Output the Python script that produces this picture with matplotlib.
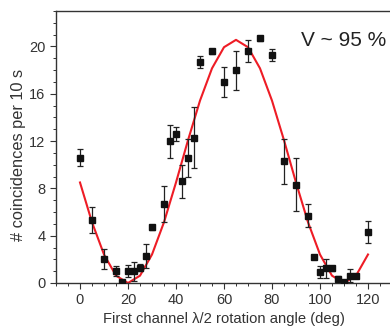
import matplotlib.pyplot as plt
from matplotlib.ticker import MultipleLocator

plt.rcParams['font.family'] = ['Liberation Sans', 'DejaVu Sans']

# measured coincidences
angle = [0, 5, 10, 15, 17.5, 20, 22.5, 25, 27.5, 30, 35, 37.5, 40, 42.5, 45, 47.5,
         50, 55, 60, 65, 70, 75, 80, 85, 90, 95, 97.5, 100, 102.5, 105, 107.5, 110,
         112.5, 115, 120]
counts = [10.6, 5.3, 2.0, 1.0, 0.05, 1.0, 1.0, 1.3, 2.3, 4.7, 6.7, 12.0, 12.6, 8.6, 10.6, 12.3,
          18.7, 19.6, 17.0, 18.0, 19.6, 20.7, 19.3, 10.3, 8.3, 5.7, 2.2, 0.95, 1.25, 1.25, 0.35, 0.05,
          0.6, 0.6, 4.3]
err = [0.7, 1.1, 0.85, 0.4, 0.0, 0.5, 0.8, 0.3, 1.0, 0.2, 1.5, 1.4, 0.6, 1.4, 1.6, 2.6,
       0.5, 0.2, 1.3, 1.65, 0.95, 0.2, 0.5, 1.9, 2.25, 1.0, 0.2, 0.5, 0.8, 0.2, 0.2, 0.1,
       0.55, 0.2, 0.95]

# fit curve (read every 5 deg)
fit_angle = list(range(0, 125, 5))
fit_counts = [8.5, 5.14, 2.41, 0.62, 0.0, 0.62, 2.41, 5.14, 8.5, 12.07, 15.42, 18.15, 19.94,
              20.56, 19.94, 18.15, 15.42, 12.07, 8.5, 5.14, 2.41, 0.62, 0.0, 0.62, 2.41]

fig = plt.figure(figsize=(3.9, 3.3), dpi=100)
ax = fig.add_axes([56 / 390, 47 / 330, 336 / 390, 272 / 330])

ax.plot(fit_angle, fit_counts, color='#ee1c25', lw=1.5, zorder=2)
ax.errorbar(angle, counts, yerr=err, fmt='s', color='#111111', ms=5,
            ecolor='#222222', elinewidth=0.9, capsize=2.2, capthick=0.9, zorder=3)

ax.set_xlim(-10, 130)
ax.set_ylim(0, 23)
ax.xaxis.set_major_locator(MultipleLocator(20))
ax.xaxis.set_minor_locator(MultipleLocator(5))
ax.yaxis.set_major_locator(MultipleLocator(4))
ax.yaxis.set_minor_locator(MultipleLocator(1))

for s in ax.spines.values():
    s.set_color('#333333')
    s.set_linewidth(1.0)
ax.spines['right'].set_visible(False)

ax.tick_params(which='major', direction='out', length=4, width=0.8, color='#333333',
               labelsize=10.5, labelcolor='#333333')
ax.tick_params(which='minor', direction='out', length=2, width=0.7, color='#333333')

ax.set_xlabel('First channel \u03bb/2 rotation angle (deg)', fontsize=10.6, color='#333333', labelpad=3)
ax.set_ylabel('# coincidences per 10 s', fontsize=11.8, color='#333333')
ax.yaxis.set_label_coords(-0.09, 0.47)

ax.text(0.982, 0.893, 'V ~ 95 %', transform=ax.transAxes, fontsize=15,
        ha='right', va='center', color='#222222')

fig.savefig('out.png', dpi=100)
